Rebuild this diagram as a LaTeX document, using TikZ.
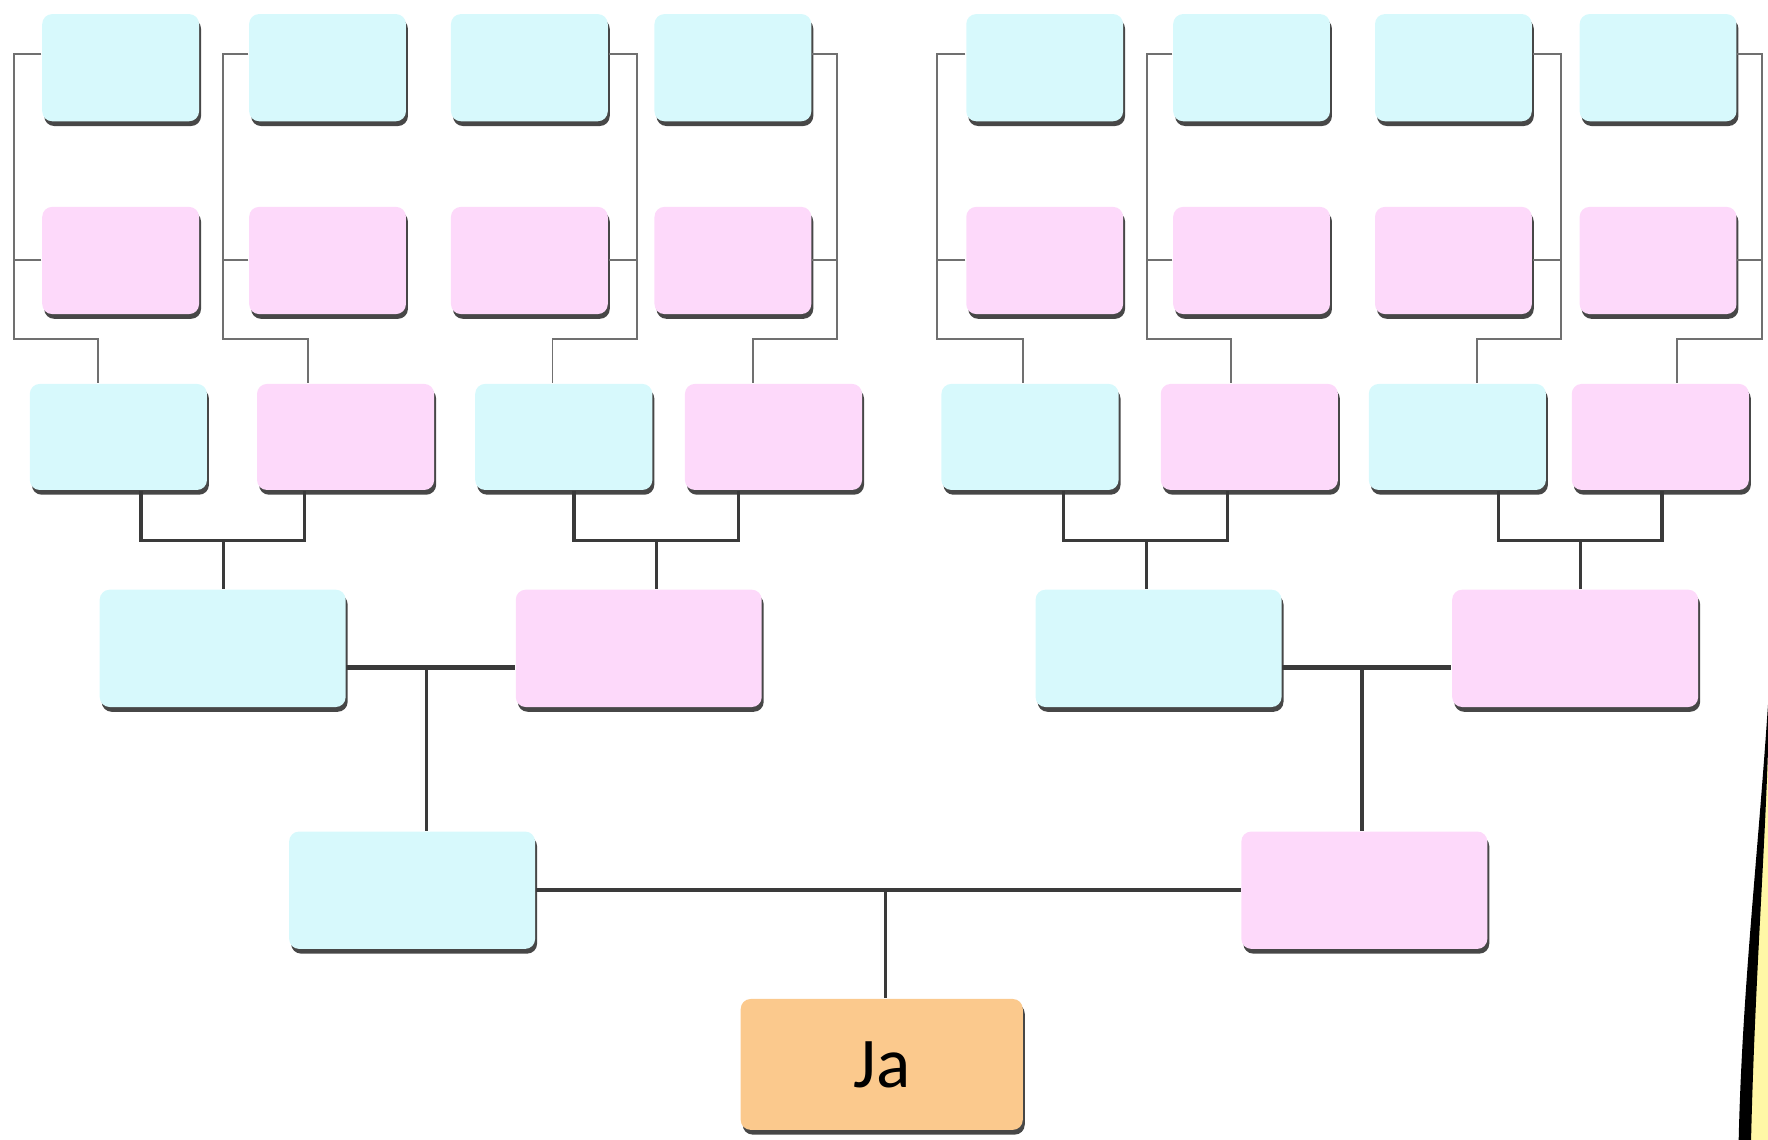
\documentclass[tikz,border=0pt]{standalone}
\usepackage{fontspec}
\setmainfont{Carlito}
\usetikzlibrary{shadows}

\definecolor{boycyan}{HTML}{D7F9FC}
\definecolor{girlpink}{HTML}{FDD9FA}
\definecolor{meorange}{HTML}{FBC98D}
\definecolor{linegray}{HTML}{707070}
\definecolor{linedark}{HTML}{3A3A3A}
\definecolor{paleyellow}{HTML}{FFF7A6}

\tikzset{
  card/.style={rectangle, rounded corners=2.5pt, inner sep=0pt,
    drop shadow={shadow xshift=0.5pt, shadow yshift=-1.2pt, fill=black!72, opacity=1}},
  oldbox/.style={card, minimum width=1.39cm, minimum height=0.95cm},
  midbox/.style={card, minimum width=1.57cm, minimum height=0.94cm},
  bigbox/.style={card, minimum width=2.18cm, minimum height=1.04cm},
  fine/.style={draw=linegray, line width=0.5pt},
  bond/.style={draw=linedark, line width=0.8pt},
  wed/.style={draw=linedark, line width=1.1pt},
}

\begin{document}
\begin{tikzpicture}[x=0.01cm, y=-0.01cm]
        \useasboundingbox (0,0) rectangle (1568,1011);

        % yellow piece at the right edge
        \fill[paleyellow] (1568,660) .. controls (1565,760) and (1555,880) .. (1552,1011) -- (1568,1011) -- cycle;
        \fill[black] (1568,625) .. controls (1559,760) and (1545,880) .. (1542,1011) -- (1553,1011)
            .. controls (1556,880) and (1565,760) .. (1568,665) -- cycle;

        % top row
        \node[oldbox, fill=boycyan] (u1) at (107, 60) {};
        \node[oldbox, fill=boycyan] (u2) at (290.5, 60) {};
        \node[oldbox, fill=boycyan] (u3) at (469.5, 60) {};
        \node[oldbox, fill=boycyan] (u4) at (650, 60) {};
        \node[oldbox, fill=boycyan] (u5) at (926.5, 60) {};
        \node[oldbox, fill=boycyan] (u6) at (1110, 60) {};
        \node[oldbox, fill=boycyan] (u7) at (1289, 60) {};
        \node[oldbox, fill=boycyan] (u8) at (1470.5, 60) {};

        % second row
        \node[oldbox, fill=girlpink] (v1) at (107, 231) {};
        \node[oldbox, fill=girlpink] (v2) at (290.5, 231) {};
        \node[oldbox, fill=girlpink] (v3) at (469.5, 231) {};
        \node[oldbox, fill=girlpink] (v4) at (650, 231) {};
        \node[oldbox, fill=girlpink] (v5) at (926.5, 231) {};
        \node[oldbox, fill=girlpink] (v6) at (1110, 231) {};
        \node[oldbox, fill=girlpink] (v7) at (1289, 231) {};
        \node[oldbox, fill=girlpink] (v8) at (1470.5, 231) {};

        % third row
        \node[midbox, fill=boycyan] (w1) at (105, 387.5) {};
        \node[midbox, fill=girlpink] (w2) at (306.5, 387.5) {};
        \node[midbox, fill=boycyan] (w3) at (500, 387.5) {};
        \node[midbox, fill=girlpink] (w4) at (686, 387.5) {};
        \node[midbox, fill=boycyan] (w5) at (913.5, 387.5) {};
        \node[midbox, fill=girlpink] (w6) at (1108, 387.5) {};
        \node[midbox, fill=boycyan] (w7) at (1292.5, 387.5) {};
        \node[midbox, fill=girlpink] (w8) at (1472.5, 387.5) {};

        % grandparents
        \node[bigbox, fill=boycyan] (g1) at (197.5, 575) {};
        \node[bigbox, fill=girlpink] (g2) at (566.5, 575) {};
        \node[bigbox, fill=boycyan] (g3) at (1027.5, 575) {};
        \node[bigbox, fill=girlpink] (g4) at (1397, 575) {};

        % parents
        \node[bigbox, fill=boycyan] (p1) at (365.5, 789.5) {};
        \node[bigbox, fill=girlpink] (p2) at (1210, 789.5) {};

        \node[card, fill=meorange, minimum width=2.5cm, minimum height=1.16cm,
            font=\fontsize{18}{20}\selectfont] (ja) at (782, 944) {Ja};

        % thin brackets of the two top rows
        \draw[fine] ([yshift=1.2mm]u1.west) -| (12,301) -| ([xshift=-1.8mm]w1.north);
        \draw[fine] (v1.west) -- ++(-25,0);
        \draw[fine] ([yshift=1.2mm]u2.west) -| (198,301) -| ([xshift=-3.35mm]w2.north);
        \draw[fine] (v2.west) -- ++(-22,0);
        \draw[fine] ([yshift=1.2mm]u3.east) -| (565,301) -| ([xshift=-1mm]w3.north);
        \draw[fine] (v3.east) -- ++(25,0);
        \draw[fine] ([yshift=1.2mm]u4.east) -| (742,301) -| ([xshift=-1.8mm]w4.north);
        \draw[fine] (v4.east) -- ++(22,0);
        \draw[fine] ([yshift=1.2mm]u5.west) -| (831,301) -| ([xshift=-0.65mm]w5.north);
        \draw[fine] (v5.west) -- ++(-25,0);
        \draw[fine] ([yshift=1.2mm]u6.west) -| (1017,301) -| ([xshift=-1.6mm]w6.north);
        \draw[fine] (v6.west) -- ++(-23,0);
        \draw[fine] ([yshift=1.2mm]u7.east) -| (1384,301) -| ([xshift=1.75mm]w7.north);
        \draw[fine] (v7.east) -- ++(25,0);
        \draw[fine] ([yshift=1.2mm]u8.east) -| (1563,301) -| ([xshift=1.45mm]w8.north);
        \draw[fine] (v8.east) -- ++(22,0);

        % third row to grandparents
        \coordinate (j1) at (198, 479);
        \coordinate (j2) at (582, 479);
        \coordinate (j3) at (1017, 479);
        \coordinate (j4) at (1402, 479);
        \draw[bond] ([xshift=2mm]w1.south) |- (j1) -| ([xshift=-3.65mm]w2.south);
        \draw[bond] (j1) -- (j1 |- g1.north);
        \draw[bond] ([xshift=0.9mm]w3.south) |- (j2) -| ([xshift=-3.1mm]w4.south);
        \draw[bond] (j2) -- (j2 |- g2.north);
        \draw[bond] ([xshift=3mm]w5.south) |- (j3) -| ([xshift=-1.9mm]w6.south);
        \draw[bond] (j3) -- (j3 |- g3.north);
        \draw[bond] ([xshift=3.65mm]w7.south) |- (j4) -| ([xshift=0.15mm]w8.south);
        \draw[bond] (j4) -- (j4 |- g4.north);

        % grandparents to parents
        \coordinate (m1) at (378, 592);
        \coordinate (m2) at (1208, 592);
        \draw[wed] ([yshift=-1.7mm]g1.east) -- ([yshift=-1.7mm]g2.west);
        \draw[bond] (m1) -- (m1 |- p1.north);
        \draw[wed] ([yshift=-1.7mm]g3.east) -- ([yshift=-1.7mm]g4.west);
        \draw[bond] (m2) -- (m2 |- p2.north);

        % parents to me
        \coordinate (m3) at (785, 791);
        \draw[wed] (p1.east) -- (p2.west);
        \draw[bond] (m3) -- (m3 |- ja.north);
\end{tikzpicture}
\end{document}
